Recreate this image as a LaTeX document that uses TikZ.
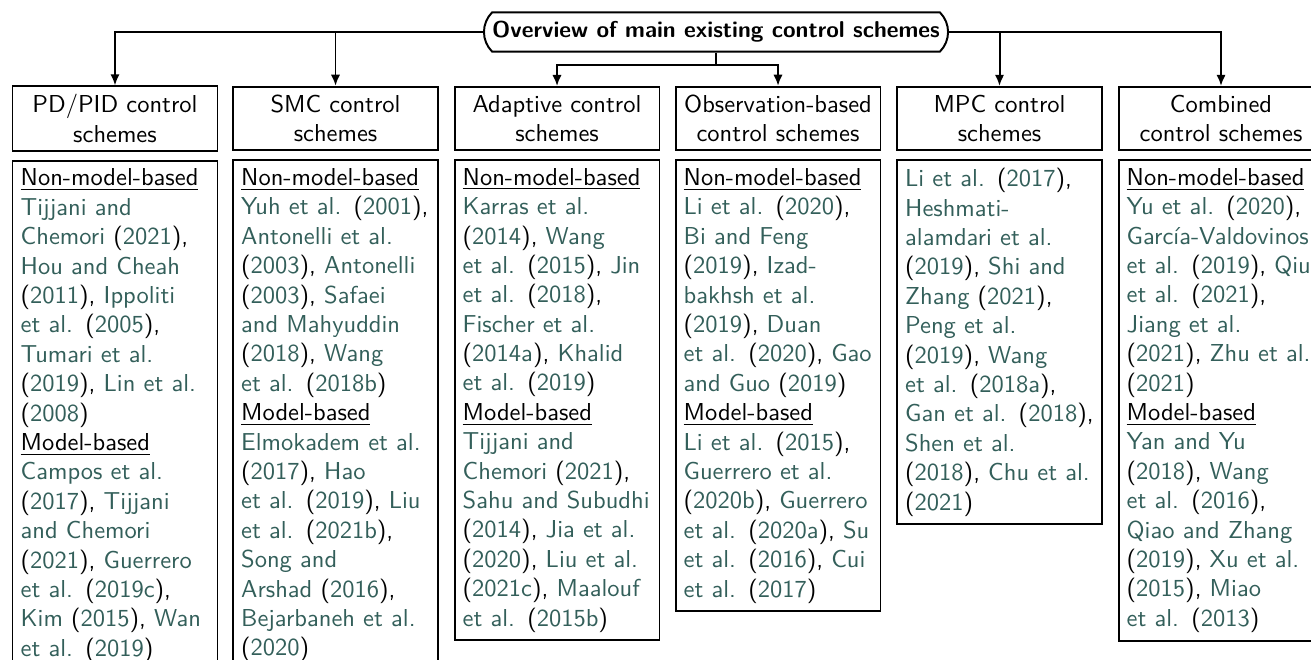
\documentclass[tikz,border=0pt]{standalone}
\usepackage{tikz}
\usetikzlibrary{arrows.meta,positioning,shapes.misc}
\definecolor{refcol}{HTML}{335F5A}
\newcommand{\rf}[1]{\textcolor{refcol}{#1}}

\begin{document}
\begin{tikzpicture}[x=0.4082pt, y=-0.4082pt, font=\sffamily,
	headbox/.style={draw, thick, align=center, text width=77pt, minimum height=25.7pt},
	listbox/.style={draw, thick, align=left, text width=77pt, below=3.3pt of #1},
	arr/.style={thick, -{Latex[length=4.5pt, width=3.8pt]}}]
	\useasboundingbox (0,0) rectangle (1311,659);
	\node[draw, thick, rounded rectangle, rounded rectangle arc length=90, inner xsep=2.5pt, minimum height=16pt, font=\sffamily\fontsize{9.35pt}{11pt}\bfseries] (title) at (716,32) {Overview of main existing control schemes};
	% category headers
	\node[headbox] (pid) at (115,118.5) {PD/PID control\\schemes};
	\node[headbox] (smc) at (335.5,118.5) {SMC control\\schemes};
	\node[headbox] (ada) at (557,118.5) {Adaptive control\\schemes};
	\node[headbox] (obs) at (778,118.5) {Observation-based\\control schemes};
	\node[headbox] (mpc) at (999.5,118.5) {MPC control\\schemes};
	\node[headbox] (comb) at (1221,118.5) {Combined\\control schemes};
	% connectors
	\draw[arr] (title.west) -| (pid.north);
	\draw[arr] (title.west) -| (smc.north);
	\draw[arr] (title.east) -| (mpc.north);
	\draw[arr] (title.east) -| (comb.north);
	\draw[thick] (title.south) -- ++(0,12) coordinate (split);
	\draw[arr] (split) -| (ada.north);
	\draw[arr] (split) -| (obs.north);
	% reference lists
	\node[listbox=pid, anchor=north] (pidlist) {\underline{Non-model-based}\\
		\rf{Tijjani and}\\
		\rf{Chemori} (\rf{2021}),\\
		\rf{Hou and Cheah}\\
		(\rf{2011}), \rf{Ippoliti}\\
		\rf{et al.} (\rf{2005}),\\
		\rf{Tumari et al.}\\
		(\rf{2019}), \rf{Lin et al.}\\
		(\rf{2008})\\
		\underline{Model-based}\\
		\rf{Campos et al.}\\
		(\rf{2017}), \rf{Tijjani}\\
		\rf{and Chemori}\\
		(\rf{2021}), \rf{Guerrero}\\
		\rf{et al.} (\rf{2019c}),\\
		\rf{Kim} (\rf{2015}), \rf{Wan}\\
		\rf{et al.} (\rf{2019})};
	\node[listbox=smc] (smclist) {\underline{Non-model-based}\\
		\rf{Yuh et al.} (\rf{2001}),\\
		\rf{Antonelli et al.}\\
		(\rf{2003}), \rf{Antonelli}\\
		(\rf{2003}), \rf{Safaei}\\
		\rf{and Mahyuddin}\\
		(\rf{2018}), \rf{Wang}\\
		\rf{et al.} (\rf{2018b})\\
		\underline{Model-based}\\
		\rf{Elmokadem et al.}\\
		(\rf{2017}), \rf{Hao}\\
		\rf{et al.} (\rf{2019}), \rf{Liu}\\
		\rf{et al.} (\rf{2021b}),\\
		\rf{Song and}\\
		\rf{Arshad} (\rf{2016}),\\
		\rf{Bejarbaneh et al.}\\
		(\rf{2020})};
	\node[listbox=ada] (adalist) {\underline{Non-model-based}\\
		\rf{Karras et al.}\\
		(\rf{2014}), \rf{Wang}\\
		\rf{et al.} (\rf{2015}), \rf{Jin}\\
		\rf{et al.} (\rf{2018}),\\
		\rf{Fischer et al.}\\
		(\rf{2014a}), \rf{Khalid}\\
		\rf{et al.} (\rf{2019})\\
		\underline{Model-based}\\
		\rf{Tijjani and}\\
		\rf{Chemori} (\rf{2021}),\\
		\rf{Sahu and Subudhi}\\
		(\rf{2014}), \rf{Jia et al.}\\
		(\rf{2020}), \rf{Liu et al.}\\
		(\rf{2021c}), \rf{Maalouf}\\
		\rf{et al.} (\rf{2015b})};
	\node[listbox=obs] (obslist) {\underline{Non-model-based}\\
		\rf{Li et al.} (\rf{2020}),\\
		\rf{Bi and Feng}\\
		(\rf{2019}), \rf{Izad-}\\
		\rf{bakhsh et al.}\\
		(\rf{2019}), \rf{Duan}\\
		\rf{et al.} (\rf{2020}), \rf{Gao}\\
		\rf{and Guo} (\rf{2019})\\
		\underline{Model-based}\\
		\rf{Li et al.} (\rf{2015}),\\
		\rf{Guerrero et al.}\\
		(\rf{2020b}), \rf{Guerrero}\\
		\rf{et al.} (\rf{2020a}), \rf{Su}\\
		\rf{et al.} (\rf{2016}), \rf{Cui}\\
		\rf{et al.} (\rf{2017})};
	\node[listbox=mpc] (mpclist) {\rf{Li et al.} (\rf{2017}),\\
		\rf{Heshmati-}\\
		\rf{alamdari et al.}\\
		(\rf{2019}), \rf{Shi and}\\
		\rf{Zhang} (\rf{2021}),\\
		\rf{Peng et al.}\\
		(\rf{2019}), \rf{Wang}\\
		\rf{et al.} (\rf{2018a}),\\
		\rf{Gan et al.} (\rf{2018}),\\
		\rf{Shen et al.}\\
		(\rf{2018}), \rf{Chu et al.}\\
		(\rf{2021})};
	\node[listbox=comb] (comblist) {\underline{Non-model-based}\\
		\rf{Yu et al.} (\rf{2020}),\\
		\rf{García-Valdovinos}\\
		\rf{et al.} (\rf{2019}), \rf{Qiu}\\
		\rf{et al.} (\rf{2021}),\\
		\rf{Jiang et al.}\\
		(\rf{2021}), \rf{Zhu et al.}\\
		(\rf{2021})\\
		\underline{Model-based}\\
		\rf{Yan and Yu}\\
		(\rf{2018}), \rf{Wang}\\
		\rf{et al.} (\rf{2016}),\\
		\rf{Qiao and Zhang}\\
		(\rf{2019}), \rf{Xu et al.}\\
		(\rf{2015}), \rf{Miao}\\
		\rf{et al.} (\rf{2013})};
\end{tikzpicture}
\end{document}
